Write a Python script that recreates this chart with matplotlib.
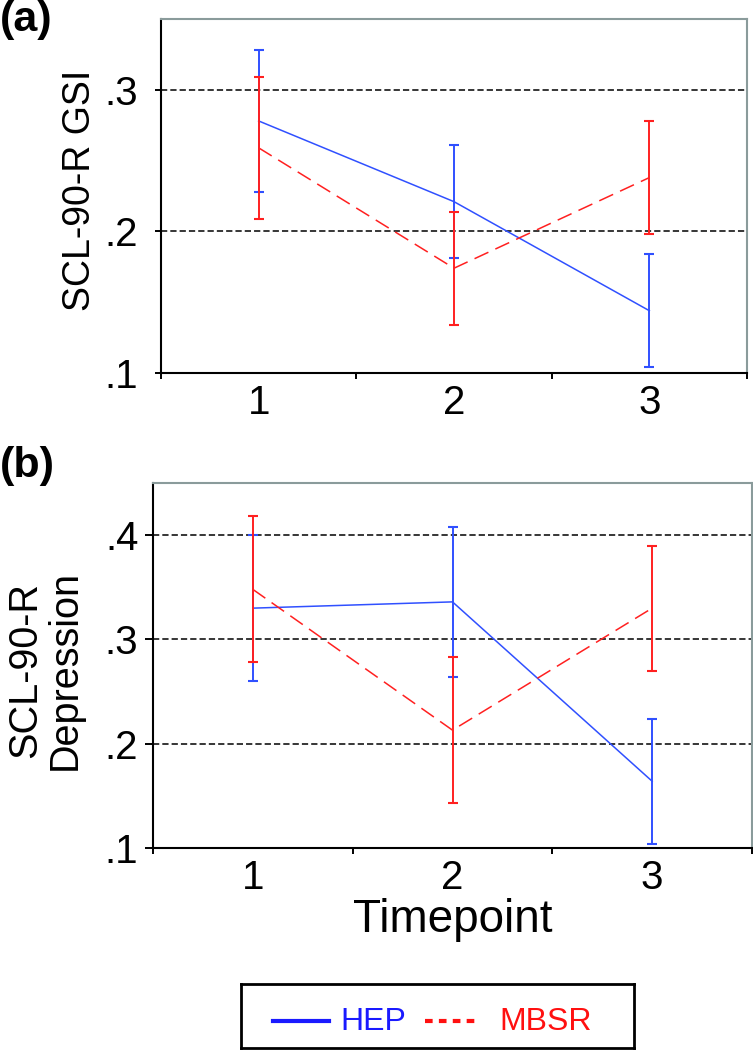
import matplotlib
matplotlib.use("Agg")
import matplotlib.pyplot as plt
from matplotlib.lines import Line2D

plt.rcParams['font.family'] = ['Liberation Sans', 'DejaVu Sans']
plt.rcParams['lines.scale_dashes'] = False

timepoints = [1, 2, 3]
tick_labels = ["1", "2", "3"]
groups = ["HEP", "MBSR"]

gsi_hep_mean = [0.278, 0.221, 0.144]
gsi_hep_err = [0.050, 0.040, 0.040]
gsi_mbsr_mean = [0.259, 0.174, 0.238]
gsi_mbsr_err = [0.050, 0.040, 0.040]

dep_hep_mean = [0.330, 0.336, 0.164]
dep_hep_err = [0.070, 0.072, 0.060]
dep_mbsr_mean = [0.348, 0.213, 0.330]
dep_mbsr_err = [0.070, 0.070, 0.060]

W, H = 753, 1050
fig = plt.figure(figsize=(W / 100, H / 100), dpi=100)

BLUE = '#3050ff'
RED = '#ff2020'
GRAY = '#8a9b9b'


def px_axes(l, t, r, b):
    return fig.add_axes([l / W, 1 - b / H, (r - l) / W, (b - t) / H])


def draw_panel(ax, hep_m, hep_e, mb_m, mb_e, ylim, yticks, ylabel, ylab_xy,
               ytick_len, ytick_pad, ylab_size):
    ax.set_xlim(0.5, 3.5)
    ax.set_ylim(*ylim)
    for yv in yticks[1:]:
        ax.axhline(yv, color='black', lw=1.1, linestyle=(0, (4.5, 2.2)), zorder=1)
    ax.errorbar(timepoints, hep_m, yerr=hep_e, color=BLUE, lw=1.1,
                elinewidth=1.4, capsize=3.5, capthick=1.5, zorder=3)
    ax.errorbar(timepoints, mb_m, yerr=mb_e, color=RED, lw=1.1,
                linestyle=(0, (11.0, 5.5)), elinewidth=1.4, capsize=3.5,
                capthick=1.5, zorder=4)
    ax.set_yticks(yticks)
    ax.set_yticklabels(['.' + f"{v:.1f}".split('.')[1] for v in yticks])
    ax.set_xticks([0.5, 1.5, 2.5, 3.5])
    ax.set_xticklabels([])
    ax.set_xticks(timepoints, minor=True)
    ax.set_xticklabels(tick_labels, minor=True)
    ax.tick_params(axis='x', which='major', length=6 * 0.72, width=1.4,
                   direction='out', color='black')
    ax.tick_params(axis='x', which='minor', length=0, pad=8.0, labelsize=29)
    ax.tick_params(axis='y', which='major', length=ytick_len, width=1.4,
                   direction='out', pad=ytick_pad, labelsize=29)
    for s in ['left', 'bottom']:
        ax.spines[s].set_color('black')
        ax.spines[s].set_linewidth(1.5)
    for s in ['top', 'right']:
        ax.spines[s].set_color(GRAY)
        ax.spines[s].set_linewidth(1.5)
    ax.set_ylabel(ylabel, fontsize=ylab_size, ha='center', va='center',
                  linespacing=1.05)
    ax.yaxis.set_label_coords(*ylab_xy)


ax1 = px_axes(161, 19, 747, 373)
draw_panel(ax1, gsi_hep_mean, gsi_hep_err, gsi_mbsr_mean, gsi_mbsr_err,
           (0.1, 0.35), [0.1, 0.2, 0.3], "SCL-90-R GSI",
           ((80 - 161) / 586, (373 - 190) / 354), 6 * 0.72, 12, 27)

ax2 = px_axes(153, 483, 752, 848)
draw_panel(ax2, dep_hep_mean, dep_hep_err, dep_mbsr_mean, dep_mbsr_err,
           (0.1, 0.45), [0.1, 0.2, 0.3, 0.4], "SCL-90-R\nDepression",
           ((45 - 153) / 599, (848 - 670) / 365), 8 * 0.72, 4.8, 28.5)
ax2.set_xlabel("Timepoint", fontsize=33, labelpad=1)

fig.text(0 / W, 1 - 0 / H, "(a)", fontsize=31, fontweight='bold',
         ha='left', va='top')
fig.text(0 / W, 1 - 446 / H, "(b)", fontsize=31, fontweight='bold',
         ha='left', va='top')

# legend box
lax = px_axes(241, 984, 634, 1048)
lax.set_xlim(241, 634)
lax.set_ylim(1048, 984)
lax.set_xticks([])
lax.set_yticks([])
for s in lax.spines.values():
    s.set_color('black')
    s.set_linewidth(2.0)
lax.add_line(Line2D([273, 329], [1021, 1021], color='#1a1aff', lw=3.0))
lax.text(340, 1022, groups[0], color='#1a1aff', fontsize=23, ha='left',
         va='center')
lax.add_line(Line2D([425, 480], [1021, 1021], color='#ff1010', lw=3.0,
                    linestyle=(0, (5.5, 4.5))))
lax.text(499, 1022, groups[1], color='#ff1010', fontsize=23, ha='left',
         va='center')

fig.savefig("out.png", dpi=100)
